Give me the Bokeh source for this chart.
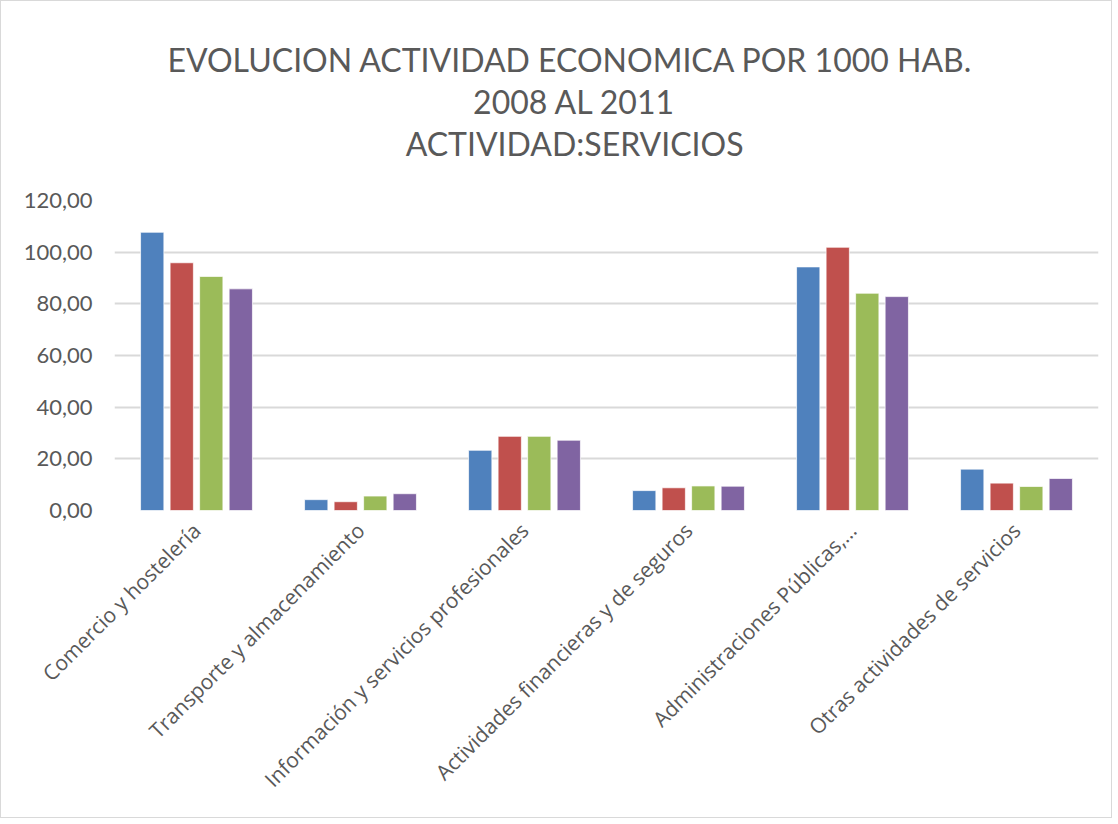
import math
from bokeh.plotting import figure
from bokeh.layouts import column
from bokeh.models import ColumnDataSource, FactorRange, Range1d, CustomJSTickFormatter, FixedTicker
from bokeh.core.properties import value
from bokeh.transform import dodge
from bokeh.embed import file_html
from bokeh.resources import INLINE

categories = [
    "Comercio y hostelería",
    "Transporte y almacenamiento",
    "Información y servicios profesionales",
    "Actividades financieras y de seguros",
    "Administraciones Públicas,…",
    "Otras actividades de servicios",
]
years = ["2008", "2009", "2010", "2011"]
v2008 = [107.7, 4.2, 23.3, 7.7, 94.3, 16.0]
v2009 = [95.9, 3.4, 28.7, 8.8, 101.9, 10.6]
v2010 = [90.6, 5.6, 28.7, 9.5, 84.1, 9.3]
v2011 = [85.8, 6.5, 27.2, 9.4, 82.8, 12.4]
colors = ["#4F81BD", "#C0504D", "#9BBB59", "#8064A2"]
title_lines = ["EVOLUCION ACTIVIDAD ECONOMICA  POR 1000 HAB.", "2008 AL 2011", "ACTIVIDAD:SERVICIOS"]
y_ticks = [0, 20, 40, 60, 80, 100, 120]

W = 1110
TH = 185
PH = 631

# ---- title strip ----
t = figure(width=W, height=TH, x_range=Range1d(0, W), y_range=Range1d(0, TH),
           x_axis_location=None, y_axis_location=None,
           output_backend="svg", toolbar_location=None,
           min_border=0, min_border_left=0, min_border_right=0, min_border_top=0, min_border_bottom=0)
t.grid.visible = False
t.outline_line_color = None
t.text(x=[519, 519, 519], y=[TH - 58, TH - 100, TH - 142], text=title_lines,
       text_align="center", text_baseline="middle",
       text_font=value("Lato"), text_font_size="32px", text_color="#595959")

# ---- bar chart ----
source = ColumnDataSource(dict(cat=categories, y2008=v2008, y2009=v2009, y2010=v2010, y2011=v2011))
p = figure(x_range=FactorRange(*categories, range_padding=0), y_range=Range1d(0, 120),
           width=W, height=PH, output_backend="svg", toolbar_location=None,
           min_border_left=113, min_border_right=13, min_border_top=14, min_border_bottom=307)
p.outline_line_color = None
p.background_fill_color = "white"
p.border_fill_color = "white"

offsets = [-0.27, -0.09, 0.09, 0.27]
for yr, off, col in zip(years, offsets, colors):
    p.vbar(x=dodge("cat", off, range=p.x_range), top="y" + yr, width=0.142, source=source,
           fill_color=col, line_color="white", line_width=1, line_alpha=0.7)

p.yaxis.ticker = FixedTicker(ticks=y_ticks)
p.yaxis.formatter = CustomJSTickFormatter(code="return tick.toFixed(2).replace('.', ',');")
p.yaxis.axis_line_color = None
p.yaxis.major_tick_line_color = None
p.yaxis.minor_tick_line_color = None
p.yaxis.major_label_text_font = "Lato"
p.yaxis.major_label_text_font_size = "22px"
p.yaxis.major_label_text_color = "#595959"
p.yaxis.major_label_standoff = 16

p.xaxis.axis_line_color = None
p.xaxis.major_tick_line_color = None
p.xaxis.minor_tick_line_color = None
p.xaxis.major_label_orientation = math.pi / 4
p.xaxis.major_label_text_font = "Open Sans"
p.xaxis.major_label_text_font_size = "21px"
p.xaxis.major_label_text_color = "#595959"
p.xaxis.major_label_standoff = 10

p.xgrid.grid_line_color = None
p.ygrid.grid_line_color = "#D9D9D9"
p.ygrid.grid_line_width = 2

layout = column(t, p, spacing=0, styles={"border": "1px solid #D9D9D9"})
open("out.html", "w").write(file_html(layout, INLINE))
